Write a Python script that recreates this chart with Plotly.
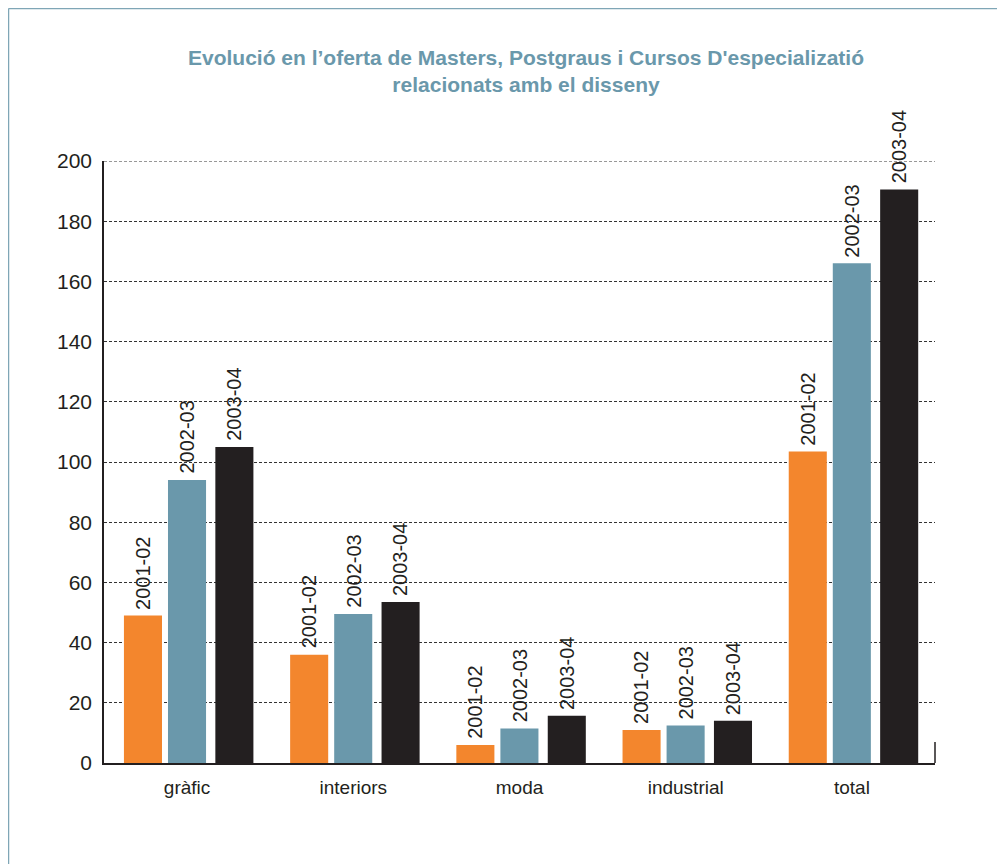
import plotly.graph_objects as go

categories = ["gràfic", "interiors", "moda", "industrial", "total"]
series_names = ["2001-02", "2002-03", "2003-04"]
v_2001_02 = [49, 36, 6, 11, 103.5]
v_2002_03 = [94, 49.5, 11.5, 12.5, 166]
v_2003_04 = [105, 53.5, 15.7, 14, 190.5]
y_ticks = [0, 20, 40, 60, 80, 100, 120, 140, 160, 180, 200]

colors = ["#f3862d", "#6a98ab", "#231f20"]
offsets = [-0.38, -0.115, 0.17]
width = 0.229

FONT = "Liberation Sans Narrow, Liberation Sans, Arial, sans-serif"

# page is offset by 8px body margin
OFF = 8
W, H = 1005 - OFF, 864 - OFF
L, R, T, B = 104 - OFF, 935 - OFF, 161 - OFF, 763 - OFF
pw, ph = R - L, B - T
cat_px = pw / len(categories)

fig = go.Figure()
annotations = []
for name, vals, col, off in zip(series_names, [v_2001_02, v_2002_03, v_2003_04], colors, offsets):
    fig.add_trace(go.Bar(
        x=categories, y=vals, name=name,
        marker=dict(color=col, line=dict(width=0)),
        offset=off, width=width,
    ))
    for c, v in zip(categories, vals):
        annotations.append(dict(
            x=c, y=v, xref="x", yref="y", text=name, showarrow=False,
            textangle=-90, xanchor="center", yanchor="bottom",
            xshift=(off + width / 2) * cat_px, yshift=4,
            font=dict(family=FONT, size=20, color="#231f20"),
        ))

def px(x):
    return (x - L) / pw

def py(y):
    return (B - y) / ph

frame_col = "#7fa6b6"
shapes = [
    dict(type="line", xref="paper", yref="paper", x0=px(0.5), x1=px(W), y0=py(0.5), y1=py(0.5),
         line=dict(color=frame_col, width=1.5)),
    dict(type="line", xref="paper", yref="paper", x0=px(0.5), x1=px(0.5), y0=py(0.5), y1=py(H),
         line=dict(color=frame_col, width=1.5)),
    dict(type="line", xref="paper", yref="y", x0=1, x1=1, y0=0, y1=7,
         line=dict(color="#231f20", width=1.5)),
    dict(type="line", xref="paper", yref="y", x0=0, x1=1, y0=y_ticks[-1], y1=y_ticks[-1],
         line=dict(color="#333333", width=1, dash="3px,2px"), layer="below"),
]

fig.update_layout(
    width=W, height=H,
    margin=dict(l=L, r=W - R, t=T, b=H - B),
    paper_bgcolor="white", plot_bgcolor="white",
    showlegend=False,
    title=dict(
        text="Evolució en l’oferta de Masters, Postgraus i Cursos D'especializatió<br>relacionats amb el disseny",
        x=(526 - OFF) / W, xanchor="center", y=1 - 57 / H, yanchor="middle",
        font=dict(family=FONT, size=21, color="#6a98ab", weight="bold"),
    ),
    shapes=shapes,
    annotations=annotations,
    font=dict(family=FONT, color="#231f20"),
)
fig.update_xaxes(
    range=[-0.5, 4.5], showgrid=False, showline=True, linecolor="#231f20", linewidth=1.5,
    ticks="", tickfont=dict(size=19, color="#231f20"), ticklabelstandoff=6,
)
fig.update_yaxes(
    range=[0, 200], tickvals=y_ticks, showgrid=True, gridcolor="#333333", griddash="3px,2px", gridwidth=1,
    showline=True, linecolor="#231f20", linewidth=1.5, zeroline=False,
    ticks="", tickfont=dict(size=21, color="#231f20"), ticklabelstandoff=6,
)

fig.write_html("out.html")
